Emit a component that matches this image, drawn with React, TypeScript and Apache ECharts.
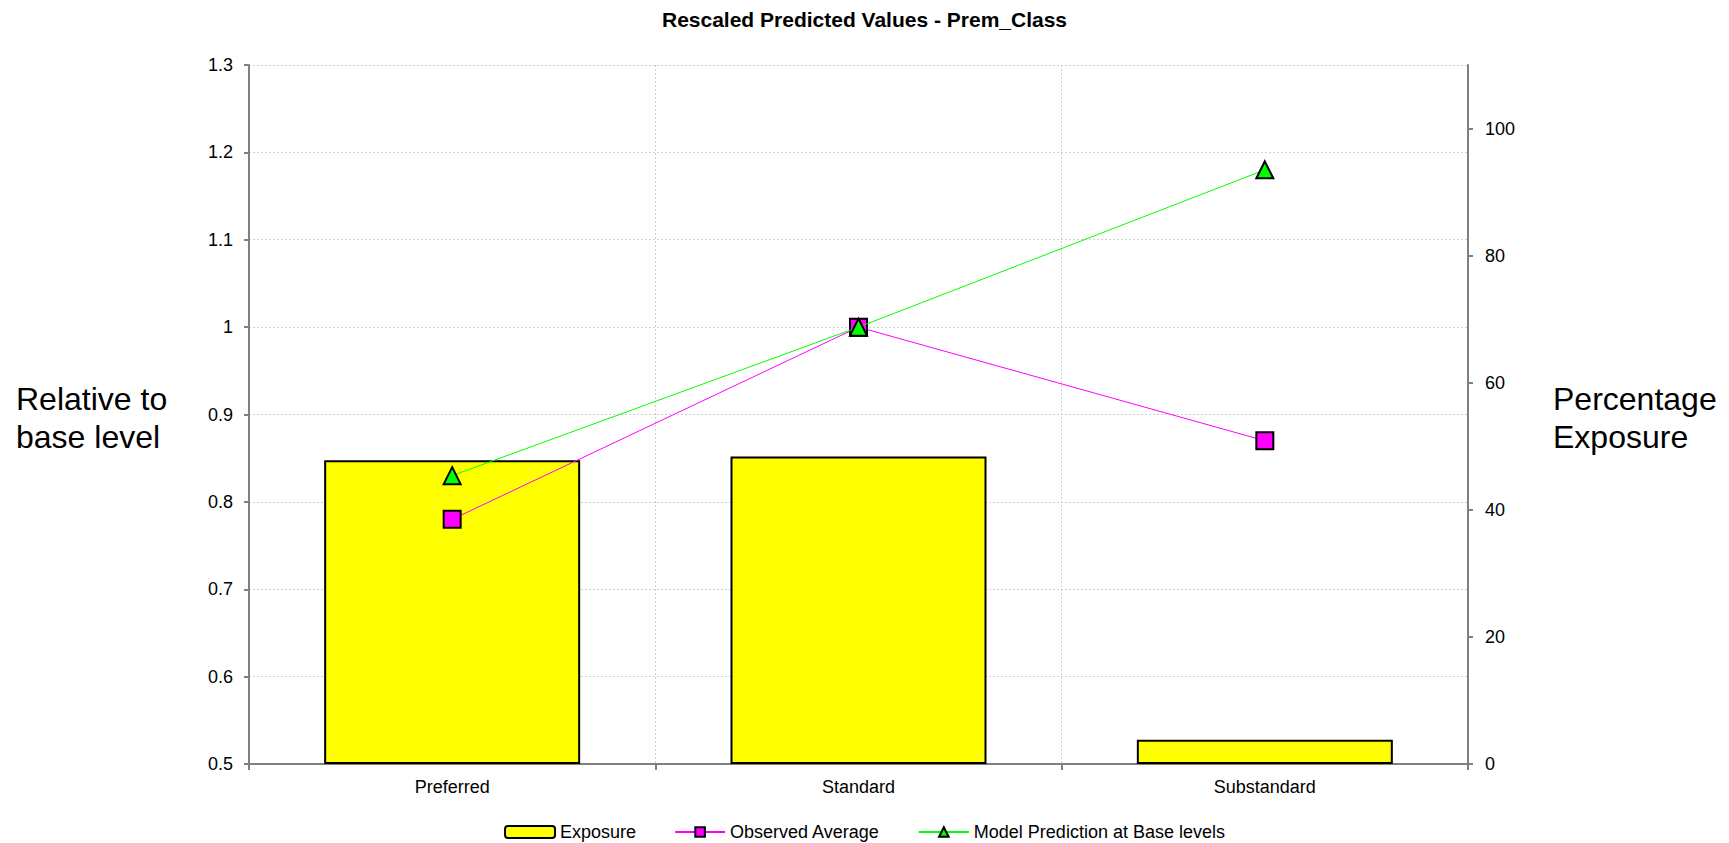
import React, { useEffect, useRef } from "react";
import * as echarts from "echarts";

// Premium class levels on the category axis
const categories = ["Preferred", "Standard", "Substandard"];
// Share of exposure per class, in percent (right axis)
const exposure = [47.8, 48.4, 3.8];
// Observed average, relative to the base level (left axis)
const observedAverage = [0.78, 1.0, 0.87];
// Model prediction at base levels, relative to the base level (left axis)
const modelPrediction = [0.83, 1.0, 1.18];
// Tick values shown on the percentage axis
const exposureTicks = [0, 20, 40, 60, 80, 100];

const FONT = 'Arial, "Liberation Sans", sans-serif';
const AXIS_GREY = "#808080";
const GRID_GREY = "#cfcfcf";

export default function App() {
  const ref = useRef<HTMLDivElement>(null);

  useEffect(() => {
    if (!ref.current) return;
    const chart = echarts.init(ref.current, undefined, { renderer: "svg" });

    const nameStyle = {
      fontSize: 32,
      fontFamily: FONT,
      fill: "#000",
      lineHeight: 38,
      verticalAlign: "middle",
      align: "left",
    };

    const option = {
      animation: false,
      backgroundColor: "#ffffff",
      textStyle: { fontFamily: FONT, color: "#000" },
      title: {
        text: "Rescaled Predicted Values - Prem_Class",
        left: "center",
        top: 9,
        padding: 0,
        textStyle: { fontSize: 21, fontWeight: "bold", color: "#000", fontFamily: FONT },
      },
      grid: { left: 249, right: 261, top: 65, bottom: 79, containLabel: false },
      legend: {
        left: "center",
        top: 823,
        padding: 0,
        itemWidth: 50,
        itemHeight: 12,
        itemGap: 38,
        textStyle: { fontSize: 18, color: "#000", fontFamily: FONT },
        data: ["Exposure", "Observed Average", "Model Prediction at Base levels"],
      },
      graphic: [
        {
          type: "text",
          x: 16,
          y: 418,
          style: { ...nameStyle, text: "Relative to\nbase level" },
        },
        {
          type: "text",
          x: 1553,
          y: 418,
          style: { ...nameStyle, text: "Percentage\nExposure" },
        },
      ],
      xAxis: {
        type: "category",
        data: categories,
        boundaryGap: true,
        axisLine: { show: true, lineStyle: { color: AXIS_GREY, width: 2 } },
        axisTick: { show: true, length: 6, lineStyle: { color: AXIS_GREY, width: 2 } },
        axisLabel: { fontSize: 18, color: "#000", margin: 14, fontFamily: FONT },
        splitLine: { show: true, lineStyle: { color: GRID_GREY, type: [2, 2], width: 1 } },
      },
      yAxis: [
        {
          type: "value",
          min: 0.5,
          max: 1.3,
          interval: 0.1,
          position: "left",
          axisLine: { show: true, lineStyle: { color: AXIS_GREY, width: 2 } },
          axisTick: { show: true, length: 5, lineStyle: { color: AXIS_GREY, width: 2 } },
          axisLabel: {
            fontSize: 18,
            color: "#000",
            margin: 16,
            fontFamily: FONT,
            formatter: (v: number) => String(Math.round(v * 10) / 10),
          },
          splitLine: { show: true, lineStyle: { color: GRID_GREY, type: [2, 2], width: 1 } },
        },
        {
          type: "value",
          min: 0,
          max: 110,
          interval: 20,
          position: "right",
          axisLine: { show: true, lineStyle: { color: AXIS_GREY, width: 2 } },
          axisTick: {
            show: true,
            length: 5,
            customValues: exposureTicks,
            lineStyle: { color: AXIS_GREY, width: 2 },
          },
          axisLabel: {
            fontSize: 18,
            color: "#000",
            margin: 17,
            fontFamily: FONT,
            customValues: exposureTicks,
          },
          splitLine: { show: false },
        },
      ],
      series: [
        {
          name: "Exposure",
          type: "bar",
          yAxisIndex: 1,
          data: exposure,
          barWidth: "63%",
          itemStyle: { color: "#ffff00", borderColor: "#000000", borderWidth: 2 },
        },
        {
          name: "Observed Average",
          type: "line",
          yAxisIndex: 0,
          data: observedAverage,
          symbol: "rect",
          symbolSize: 17,
          lineStyle: { color: "#ff00ff", width: 1 },
          itemStyle: { color: "#ff00ff", borderColor: "#000000", borderWidth: 2 },
          z: 3,
        },
        {
          name: "Model Prediction at Base levels",
          type: "line",
          yAxisIndex: 0,
          data: modelPrediction,
          symbol: "triangle",
          symbolSize: 17,
          lineStyle: { color: "#00ff00", width: 1 },
          itemStyle: { color: "#00ff00", borderColor: "#000000", borderWidth: 2 },
          z: 4,
        },
      ],
    };

    chart.setOption(option as any);
    return () => {
      chart.dispose();
    };
  }, []);

  return (
    <div
      ref={ref}
      style={{ position: "absolute", left: 0, top: 0, width: 1729, height: 843, background: "#fff" }}
    />
  );
}
